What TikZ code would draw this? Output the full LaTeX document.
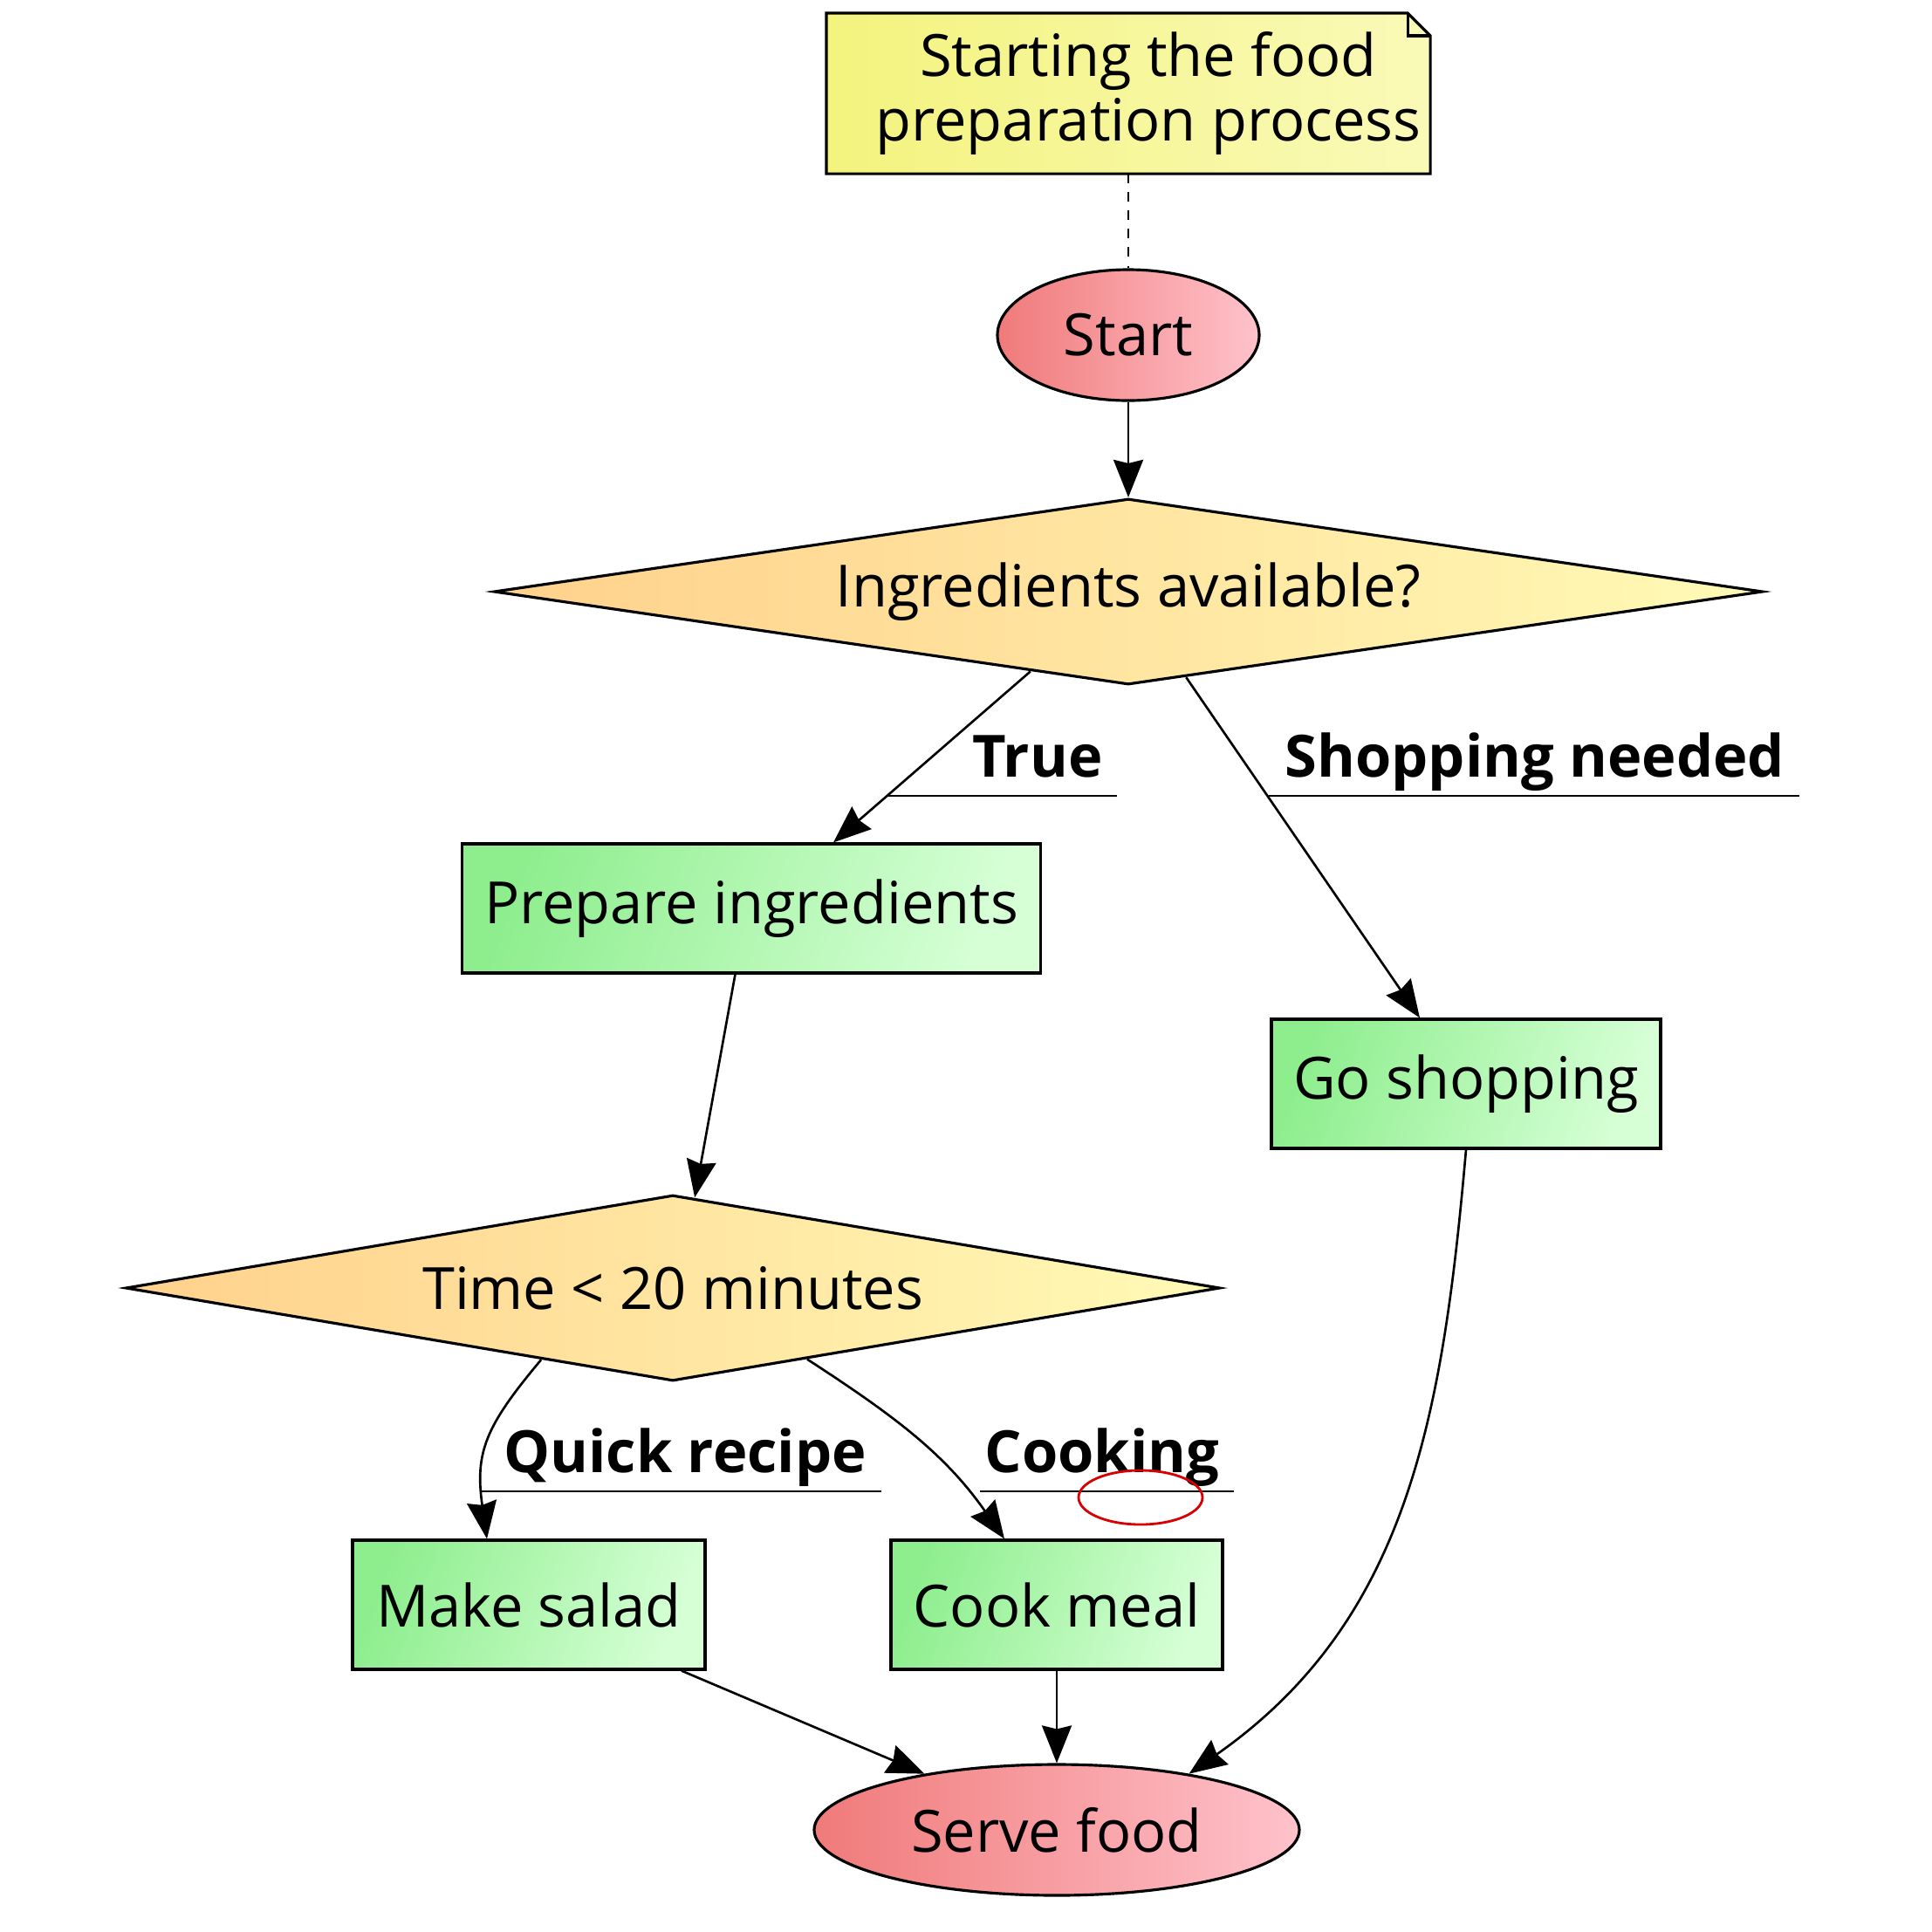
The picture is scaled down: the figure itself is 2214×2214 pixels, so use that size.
\documentclass[tikz,border=0pt]{standalone}
\usepackage{fontspec}
\setmainfont{Open Sans}
\usetikzlibrary{arrows.meta,shapes.geometric,calc}
\definecolor{notefill}{HTML}{F3F37E}
\definecolor{notelight}{HTML}{FAFAB8}
\definecolor{ovalred}{HTML}{F07A7A}
\definecolor{ovalpink}{HTML}{FFC2CB}
\definecolor{diaorange}{HTML}{FFD18C}
\definecolor{diayellow}{HTML}{FFFAB6}
\definecolor{boxgreen}{HTML}{8EEE8E}
\definecolor{boxpale}{HTML}{D6FFD6}
\definecolor{markred}{HTML}{D80000}

\begin{document}
\begin{tikzpicture}[x=0.1mm,y=0.1mm,
  font=\fontsize{19}{21}\selectfont,
  line width=0.9pt,
  oval/.style={ellipse,draw,left color=ovalred,right color=ovalpink,inner sep=0pt},
  choice/.style={diamond,draw,left color=diaorange,right color=diayellow,inner sep=0pt},
  task/.style={rectangle,draw,left color=boxgreen,right color=boxpale,shading angle=70,minimum height=14.8mm,inner sep=0pt},
  elabel/.style={font=\fontsize{19}{21}\selectfont\bfseries,inner sep=0pt},
  flow/.style={line width=0.75pt,-{Stealth[length=4.3mm,width=3.4mm,inset=0.4mm]}}]
\useasboundingbox (0,0) rectangle (2214,-2214);
\fill[white] (0,0) rectangle (2214,-2214);

% note on top
\node[minimum width=68.9mm,minimum height=18.1mm,inner sep=0pt] (note) at (1293,-107) {};
\filldraw[left color=notefill,right color=notelight]
  (note.north west) -- ([xshift=-2.6mm]note.north east) -- ([yshift=-2.6mm]note.north east)
  -- (note.south east) -- (note.south west) -- cycle;
\draw ([xshift=-2.6mm]note.north east) |- ([yshift=-2.6mm]note.north east);
\node[align=center,inner sep=0pt] (noteText) at ([xshift=2.3mm]note.center) {Starting the food\\preparation process};

% nodes
\node[oval,minimum width=30mm,minimum height=15mm] (start) at (1293,-384) {Start};
\node[choice,minimum width=145.4mm,minimum height=21.3mm,aspect=6.8] (avail) at (1293,-678) {Ingredients available?};
\node[task,minimum width=66.3mm] (prep) at (861,-1041) {Prepare ingredients};
\node[task,minimum width=44.6mm] (shop) at (1680,-1242) {Go shopping};
\node[choice,minimum width=125.4mm,minimum height=21.3mm,aspect=5.9] (time) at (771,-1476) {Time < 20 minutes};
\node[task,minimum width=40.4mm] (salad) at (606,-1839) {Make salad};
\node[task,minimum width=38mm] (cook) at (1211,-1839) {Cook meal};
\node[oval,minimum width=55.6mm,minimum height=15mm] (serve) at (1211,-2097) {Serve food};

% edges
\draw[dashed,line width=0.75pt] (note.south) -- (start.north);
\draw[flow] (start.south) -- (avail.north);
\draw[flow] ($(avail.south)!0.154!(avail.west)$) -- ([xshift=9.4mm]prep.north);
\draw[flow] ($(avail.south)!0.091!(avail.east)$) -- ([xshift=-5.3mm]shop.north);
\draw[flow] ([xshift=-1.85mm]prep.south) -- ($(time.north)!0.04!(time.east)$);
\draw[flow] ($(time.south)!0.24!(time.west)$) .. controls +(-130:100) and +(98:100) .. ([xshift=-4.8mm]salad.north);
\draw[flow] ($(time.south)!0.245!(time.east)$) to[out=-33,in=125] ([xshift=-6mm]cook.north);
\draw[flow] ([xshift=17.5mm]salad.south) -- (serve.157);
\draw[flow] (cook.south) -- (serve.north);
\draw[flow] (shop.south) to[out=-95,in=35] (serve.23);

% edge labels
\node[elabel,anchor=base west] (lTrue) at (1113,-890) {True};
\node[elabel,anchor=base west] (lShop) at (1471,-890) {Shopping needed};
\node[elabel,anchor=base west] (lQuick) at (576,-1687) {Quick recipe};
\node[elabel,anchor=base west] (lCook) at (1127,-1687) {Cooking};
\foreach \n/\l in {lTrue/9.6,lShop/1.7,lQuick/2.5,lCook/0.4}
  \draw[line width=0.7pt] ([xshift=-\l mm,yshift=-2.2mm]\n.base west) -- ([xshift=1.5mm,yshift=-2.2mm]\n.base east);

% red mark
\node[ellipse,draw=markred,line width=0.8pt,minimum width=14.2mm,minimum height=6.2mm,inner sep=0pt] (mark) at (1307,-1716) {};
\end{tikzpicture}
\end{document}
